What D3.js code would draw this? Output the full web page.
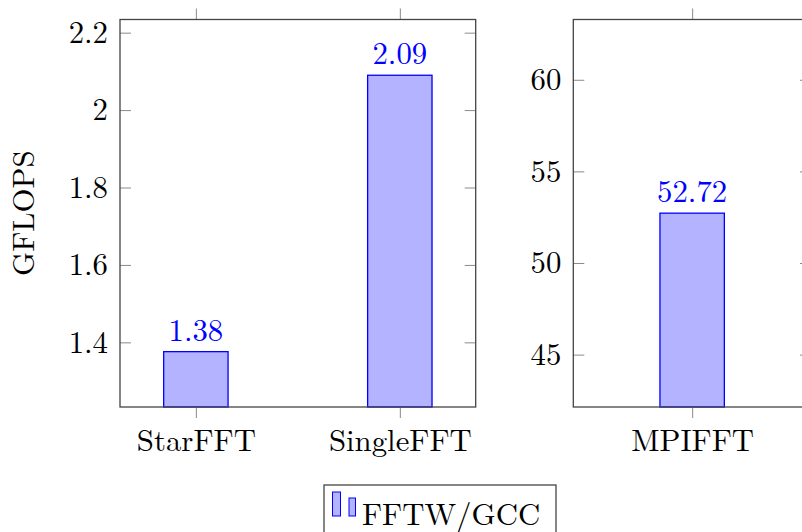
<!DOCTYPE html>
<html>
<head>
<meta charset="utf-8">
<script src="https://cdn.jsdelivr.net/npm/d3@7"></script>
<style>
  body { margin: 0; background: #fff; overflow: hidden; }
  svg text { font-family: "Latin Modern Roman", "Liberation Serif", serif !important; }
  .tick line { stroke: #8a8a8a; }
</style>
</head>
<body>
<svg id="chart"></svg>
<script>
// data
var leftCategories = ["StarFFT", "SingleFFT"];
var leftValues = [1.376, 2.09];
var leftTicks = [1.4, 1.6, 1.8, 2, 2.2];

var rightCategories = ["MPIFFT"];
var rightValues = [52.72];
var rightTicks = [45, 50, 55, 60];

var seriesName = "FFTW/GCC";
var yTitle = "GFLOPS";

var width = 802, height = 532;
var plotTop = 19.5, plotBottom = 407;
var barWidth = 64.4;
var fontSize = 30.8;
var fontFamily = "'Latin Modern Roman', 'Liberation Serif', serif";

var svg = d3.select("#chart")
    .attr("width", width)
    .attr("height", height);

var fmt = d3.format(".2f");

// draw one axis box with its bars
function drawPanel(x0, x1, categories, values, ticks, yDomain, pad) {
  var g = svg.append("g");

  var x = d3.scalePoint()
    .domain(categories)
    .range([x0, x1])
    .padding(pad);

  var y = d3.scaleLinear()
    .domain(yDomain)
    .range([plotBottom, plotTop]);

  // bars
  g.selectAll(".bar")
    .data(values)
    .enter().append("rect")
      .attr("class", "bar")
      .attr("x", function(d, i) { return x(categories[i]) - barWidth / 2; })
      .attr("y", function(d) { return y(d); })
      .attr("width", barWidth)
      .attr("height", function(d) { return plotBottom - y(d); })
      .style("fill", "#b3b3ff")
      .style("stroke", "#0000ff")
      .style("stroke-width", 1.3);

  // value labels
  g.selectAll(".val")
    .data(values)
    .enter().append("text")
      .attr("class", "val")
      .attr("x", function(d, i) { return x(categories[i]); })
      .attr("y", function(d) { return y(d) - 11; })
      .attr("text-anchor", "middle")
      .style("font-family", fontFamily)
      .style("font-size", fontSize + "px")
      .style("fill", "#0000ff")
      .text(function(d) { return fmt(d); });

  // y axis left, ticks inward
  var yl = g.append("g")
    .attr("transform", "translate(" + x0 + ",0)")
    .call(d3.axisLeft(y).tickValues(ticks).tickSize(-11).tickPadding(12)
      .tickFormat(function(d) { return String(+d.toFixed(2)); }));
  yl.selectAll("text").style("font-size", fontSize + "px").style("fill", "#000")
    .style("font-family", fontFamily);

  // mirrored ticks on the right
  g.append("g")
    .attr("transform", "translate(" + x1 + ",0)")
    .call(d3.axisRight(y).tickValues(ticks).tickSize(-11).tickFormat(""));

  // x axis bottom, ticks outward
  var xb = g.append("g")
    .attr("transform", "translate(0," + plotBottom + ")")
    .call(d3.axisBottom(x).tickSize(11).tickPadding(11));
  xb.selectAll("text").style("font-size", fontSize + "px").style("fill", "#000")
    .style("font-family", fontFamily);

  // mirrored ticks on top
  g.append("g")
    .attr("transform", "translate(0," + plotTop + ")")
    .call(d3.axisTop(x).tickSize(11).tickFormat(""));

  g.selectAll(".domain").remove();

  // frame
  g.append("rect")
    .attr("x", x0)
    .attr("y", plotTop)
    .attr("width", x1 - x0)
    .attr("height", plotBottom - plotTop)
    .style("fill", "none")
    .style("stroke", "#444")
    .style("stroke-width", 1.3);
}

drawPanel(120, 475.7, leftCategories, leftValues, leftTicks, [1.233, 2.234], 0.372);
drawPanel(573.3, 811, rightCategories, rightValues, rightTicks, [42.14, 63.29], 0.5);

// y axis title
svg.append("text")
  .attr("transform", "translate(33.5," + (plotTop + plotBottom) / 2 + ") rotate(-90)")
  .attr("text-anchor", "middle")
  .style("font-family", fontFamily)
  .style("font-size", fontSize + "px")
  .text(yTitle);

// legend
var legend = svg.append("g");
legend.append("rect")
  .attr("x", 324)
  .attr("y", 485)
  .attr("width", 232)
  .attr("height", 60)
  .style("fill", "#fff")
  .style("stroke", "#444")
  .style("stroke-width", 1.3);

legend.append("rect")
  .attr("x", 332.5).attr("y", 492).attr("width", 8).attr("height", 24)
  .style("fill", "#b3b3ff").style("stroke", "#0000ff");
legend.append("rect")
  .attr("x", 349).attr("y", 498).attr("width", 6.5).attr("height", 18)
  .style("fill", "#b3b3ff").style("stroke", "#0000ff");

legend.append("text")
  .attr("x", 362)
  .attr("y", 525)
  .style("font-family", fontFamily)
  .style("font-size", fontSize + "px")
  .text(seriesName);
</script>
</body>
</html>
